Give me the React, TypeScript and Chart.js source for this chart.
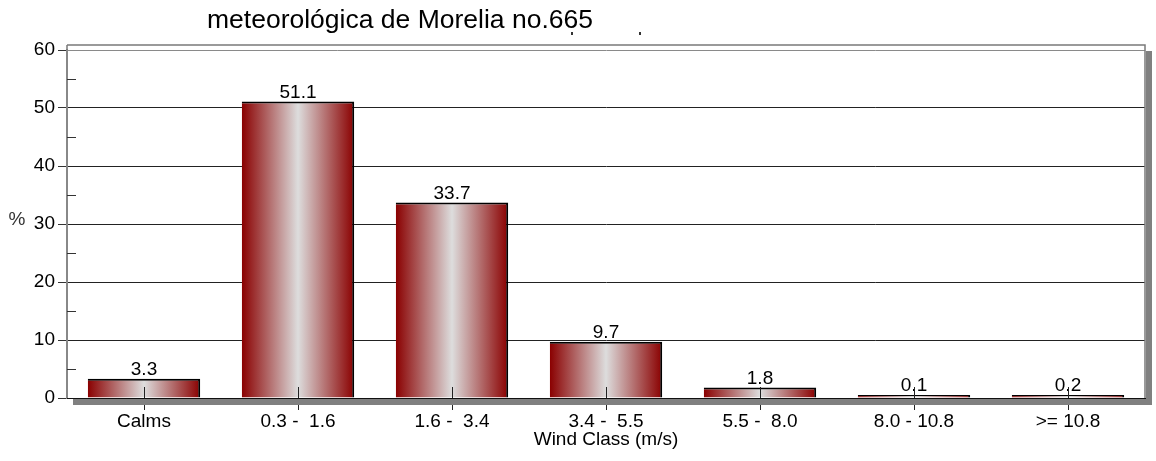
import React, { useEffect, useRef } from 'react';
import { Chart, registerables } from 'chart.js';

Chart.register(...registerables);

const chartTitle = 'meteorológica de Morelia no.665';
const categories = ['Calms', '0.3 -  1.6', '1.6 -  3.4', '3.4 -  5.5', '5.5 -  8.0', '8.0 - 10.8', '>= 10.8'];
const percentages = [3.3, 51.1, 33.7, 9.7, 1.8, 0.1, 0.2];
const xAxisTitle = 'Wind Class (m/s)';
const yAxisTitle = '%';
const yMin = 0;
const yMax = 60;
const yStep = 10;
const minorTicks = [5, 15, 25, 35, 45, 55];

const FONT = '"Liberation Sans", Arial, Helvetica, sans-serif';
const BAR_PCT = 0.73;

const decorPlugin = {
  id: 'decor',
  afterDatasetsDraw(chart: any) {
    const ctx = chart.ctx;
    const xs = chart.scales.x;
    const ys = chart.scales.y;
    const area = chart.chartArea;
    ctx.save();
    // value labels
    ctx.font = `19px ${FONT}`;
    ctx.fillStyle = '#000';
    ctx.textAlign = 'center';
    ctx.textBaseline = 'alphabetic';
    const meta = chart.getDatasetMeta(0);
    meta.data.forEach((bar: any, i: number) => {
      ctx.fillText(percentages[i].toFixed(1), bar.x, bar.y - 4);
    });
    // category tick marks
    ctx.strokeStyle = '#222';
    ctx.lineWidth = 1;
    categories.forEach((_, i) => {
      const x = Math.round(xs.getPixelForValue(i)) + 0.5;
      ctx.beginPath();
      ctx.moveTo(x, area.bottom - 11);
      ctx.lineTo(x, area.bottom + 12);
      ctx.stroke();
    });
    // minor y ticks
    ctx.strokeStyle = '#333';
    minorTicks.forEach((v) => {
      const y = Math.round(ys.getPixelForValue(v)) + 0.5;
      ctx.beginPath();
      ctx.moveTo(area.left, y);
      ctx.lineTo(area.left + 9, y);
      ctx.stroke();
    });
    ctx.restore();
  },
  afterDraw(chart: any) {
    const ctx = chart.ctx;
    const area = chart.chartArea;
    ctx.save();
    // shadows
    ctx.fillStyle = '#808080';
    ctx.fillRect(area.left + 6, area.bottom + 1, area.right - area.left + 1, 6);
    ctx.fillRect(area.right + 1, area.top + 1, 6, area.bottom - area.top + 6);
    // frame
    ctx.strokeStyle = '#7a7a7a';
    ctx.lineWidth = 1.5;
    ctx.beginPath();
    ctx.moveTo(area.left, area.top - 5);
    ctx.lineTo(area.right, area.top - 5);
    ctx.lineTo(area.right, area.bottom);
    ctx.moveTo(area.left, area.top - 5);
    ctx.lineTo(area.left, area.top);
    ctx.stroke();
    // x axis line redraw
    ctx.strokeStyle = '#111';
    ctx.lineWidth = 1;
    ctx.beginPath();
    ctx.moveTo(area.left, Math.round(area.bottom) + 0.5);
    ctx.lineTo(area.right, Math.round(area.bottom) + 0.5);
    ctx.stroke();
    // title
    ctx.fillStyle = '#000';
    ctx.font = `26.5px ${FONT}`;
    ctx.textAlign = 'left';
    ctx.textBaseline = 'alphabetic';
    ctx.fillText(chartTitle, 207, 28);
    // tiny remnant marks of cut-off line
    ctx.fillStyle = '#333';
    ctx.fillRect(571, 32, 2, 3);
    ctx.fillRect(639, 32, 2, 3);
    // y axis title
    ctx.font = `19px ${FONT}`;
    ctx.textAlign = 'center';
    ctx.textBaseline = 'middle';
    ctx.fillText(yAxisTitle, 17, (area.top + area.bottom) / 2 - 4);
    ctx.restore();
  },
};

export default function App() {
  const ref = useRef<HTMLCanvasElement>(null);
  useEffect(() => {
    const canvas = ref.current!;
    const chart = new Chart(canvas, {
      type: 'bar',
      data: {
        labels: categories,
        datasets: [
          {
            data: percentages,
            backgroundColor: (c: any) => {
              const ch = c.chart;
              const xs = ch.scales?.x;
              if (!ch.chartArea || !xs) return '#8b0000';
              const cx = xs.getPixelForValue(c.dataIndex);
              const w = (xs.width / categories.length) * BAR_PCT;
              const g = ch.ctx.createLinearGradient(cx - w / 2, 0, cx + w / 2, 0);
              g.addColorStop(0, '#8a0000');
              g.addColorStop(0.5, '#dddddd');
              g.addColorStop(1, '#8a0000');
              return g;
            },
            borderColor: '#000',
            borderWidth: { top: 2, right: 2, left: 0, bottom: 0 },
            borderSkipped: false,
            minBarLength: 3,
            barPercentage: BAR_PCT,
            categoryPercentage: 1,
          },
        ],
      },
      options: {
        responsive: false,
        animation: false,
        layout: { padding: { top: 50, right: 11, left: 0, bottom: 0 } },
        plugins: {
          legend: { display: false },
          title: { display: false },
          tooltip: { enabled: false },
        },
        scales: {
          x: {
            grid: { display: false, drawTicks: false, tickLength: 0 },
            border: { display: true, color: '#111', width: 1 },
            ticks: {
              color: '#000',
              font: { size: 19, family: FONT },
              padding: 12,
              maxRotation: 0,
              autoSkip: false,
            },
            title: {
              display: true,
              text: xAxisTitle,
              color: '#000',
              font: { size: 19, family: FONT },
              padding: { top: 0, bottom: 10 },
            },
            afterFit: (s: any) => {
              s.height = 63;
            },
          },
          y: {
            min: yMin,
            max: yMax,
            ticks: {
              stepSize: yStep,
              color: '#000',
              font: { size: 19, family: FONT },
              padding: 3,
            },
            grid: {
              color: (c: any) => (c.tick && c.tick.value === yMax ? '#8a8a8a' : '#222'),
              lineWidth: 1,
              tickLength: 9,
              tickColor: '#333',
            },
            border: { display: true, color: '#888', width: 2 },
            afterFit: (s: any) => {
              s.width = 67;
            },
          },
        },
      },
      plugins: [decorPlugin],
    });
    return () => chart.destroy();
  }, []);
  return (
    <div style={{ position: 'absolute', left: 0, top: 0, width: 1156, height: 461, background: '#fff' }}>
      <canvas ref={ref} width={1156} height={461} style={{ display: 'block' }} />
    </div>
  );
}
